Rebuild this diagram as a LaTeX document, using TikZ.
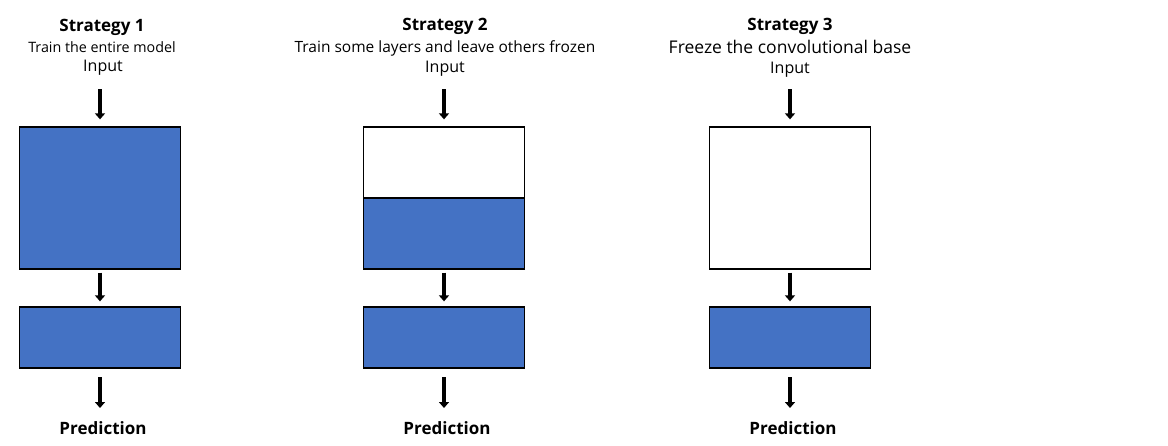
\documentclass[tikz,border=0pt]{standalone}
\usepackage{fontspec}
\setmainfont{Open Sans}
\usetikzlibrary{arrows.meta}
\definecolor{blk}{HTML}{4472C4}
\tikzset{
  x=1pt,y=-1pt,
  layer/.style={draw=black,line width=1.3pt,inner sep=0pt,minimum width=161pt},
  train/.style={layer,fill=blk},
  frozen/.style={layer,fill=white},
  flow/.style={line width=3.5pt,-{Triangle[length=6pt,width=10pt]}},
  ttl/.style={font=\fontsize{17}{20}\selectfont\bfseries,inner sep=0pt},
  sub/.style={font=\fontsize{14.3}{17}\selectfont,inner sep=0pt},
  inp/.style={font=\fontsize{16}{19}\selectfont,inner sep=0pt},
  pred/.style={font=\fontsize{17}{20}\selectfont\bfseries,inner sep=0pt},
}
\begin{document}
\begin{tikzpicture}
\useasboundingbox (0,0) rectangle (1168,445);
% Strategy 1
\node[ttl] (t1) at (102,27) {Strategy 1};
\node[sub] (s1) at (102,47) {Train the entire model};
\node[inp] (i1) at (103,68) {Input};
\coordinate (a1s) at (100,89);
\node[train,minimum height=142pt] (b1) at (100,198) {};
\node[train,minimum height=61pt] (c1) at (100,337.5) {};
\coordinate (p1s) at (100,377);
\coordinate (p1e) at (100,408);
\node[pred] (r1) at (103,428) {Prediction};
\draw[flow] (a1s) -- ([yshift=7pt]b1.north);
\draw[flow] ([yshift=-3pt]b1.south) -- ([yshift=5pt]c1.north);
\draw[flow] (p1s) -- (p1e);
% Strategy 2
\node[ttl] (t2) at (445,26) {Strategy 2};
\node[sub,font=\fontsize{15.5}{18}\selectfont] (s2) at (445,48) {Train some layers and leave others frozen};
\node[inp] (i2) at (445,69) {Input};
\coordinate (a2s) at (444,89);
\node[frozen,minimum height=71pt] (b2a) at (444,162.5) {};
\node[train,minimum height=71pt] (b2b) at (444,233.5) {};
\node[train,minimum height=61pt] (c2) at (444,337.5) {};
\coordinate (p2s) at (444,377);
\coordinate (p2e) at (444,408);
\node[pred] (r2) at (447,428) {Prediction};
\draw[flow] (a2s) -- ([yshift=7pt]b2a.north);
\draw[flow] ([yshift=-3pt]b2b.south) -- ([yshift=5pt]c2.north);
\draw[flow] (p2s) -- (p2e);
% Strategy 3
\node[ttl] (t3) at (790,26) {Strategy 3};
\node[sub,font=\fontsize{17.5}{20}\selectfont] (s3) at (790,47) {Freeze the convolutional base};
\node[inp] (i3) at (790,70) {Input};
\coordinate (a3s) at (790,89);
\node[frozen,minimum height=142pt] (b3) at (790,198) {};
\node[train,minimum height=61pt] (c3) at (790,337.5) {};
\coordinate (p3s) at (790,377);
\coordinate (p3e) at (790,408);
\node[pred] (r3) at (793,428) {Prediction};
\draw[flow] (a3s) -- ([yshift=7pt]b3.north);
\draw[flow] ([yshift=-3pt]b3.south) -- ([yshift=5pt]c3.north);
\draw[flow] (p3s) -- (p3e);
\end{tikzpicture}
\end{document}
